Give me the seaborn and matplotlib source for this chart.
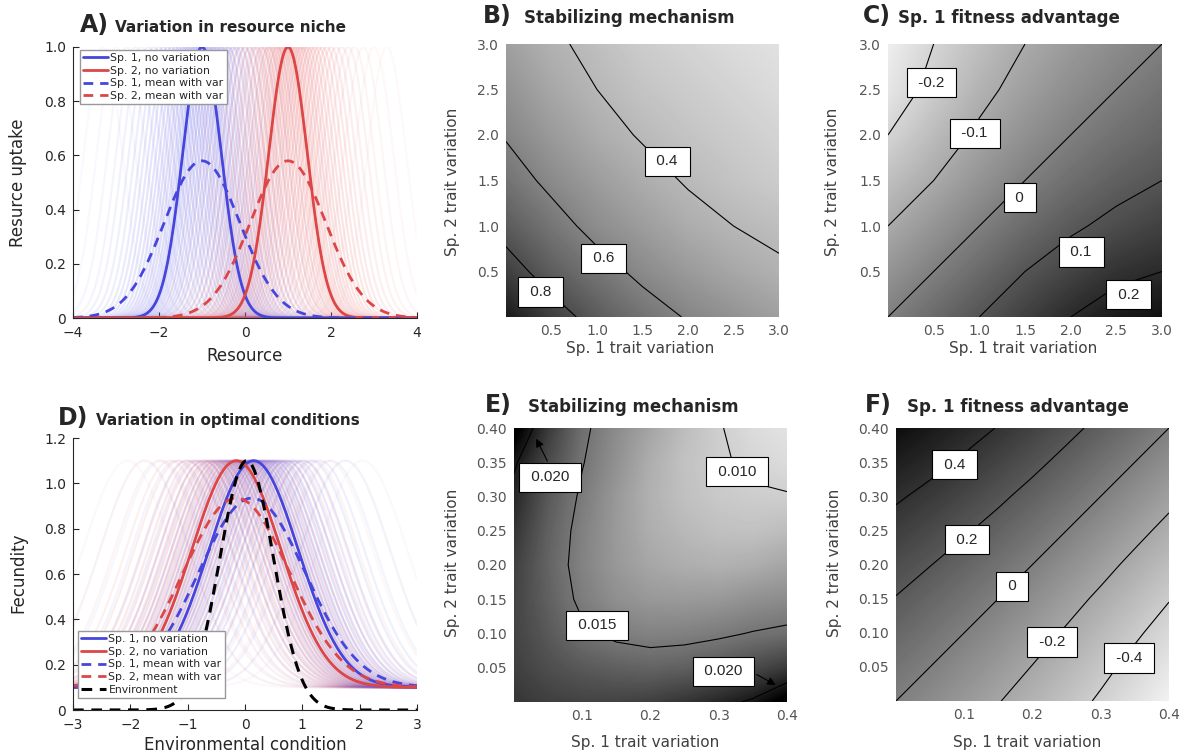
import numpy as np
import matplotlib
matplotlib.use("Agg")
import matplotlib.pyplot as plt
import seaborn as sns

# ─── Data ──────────────────────────────────────────────────
# A) resource niche curves: Sp. 1, Sp. 2
niche_optimum = [-1.0, 1.0]
niche_width = 0.45
niche_peak = 1.0
niche_var_peak = 0.58
niche_var_width = 0.88
niche_trait_offsets = [-2.3, -2.0, -1.75, -1.55, -1.4, -1.25, -1.12, -1.0, -0.9, -0.8,
                       -0.71, -0.62, -0.54, -0.46, -0.39, -0.32, -0.25, -0.18, -0.12, -0.06,
                       0.0, 0.06, 0.12, 0.18, 0.25, 0.32, 0.39, 0.46, 0.54, 0.62,
                       0.71, 0.8, 0.9, 1.0, 1.12, 1.25, 1.4, 1.55, 1.75, 2.0, 2.3]

# D) optimal conditions curves: Sp. 1, Sp. 2
cond_optimum = [0.15, -0.15]
cond_base = 0.1
cond_height = 1.0
cond_width = 0.78
cond_var_optimum = [0.12, -0.15]
cond_var_height = 0.835
cond_var_width = 0.93
cond_trait_offsets = [-1.9, -1.6, -1.35, -1.15, -1.0, -0.87, -0.76, -0.66, -0.57, -0.49,
                      -0.42, -0.35, -0.29, -0.23, -0.17, -0.11, -0.06, 0.0, 0.06, 0.11,
                      0.17, 0.23, 0.29, 0.35, 0.42, 0.49, 0.57, 0.66, 0.76, 0.87,
                      1.0, 1.15, 1.35, 1.6, 1.9]
env_center = 0.03
env_width = 0.47
env_height = 1.1

legend_labels = ["Sp. 1, no variation", "Sp. 2, no variation",
                 "Sp. 1, mean with var", "Sp. 2, mean with var"]

# B) stabilizing mechanism, trait variation 0..3 (rows = Sp. 2, cols = Sp. 1)
var_big = [0.0, 0.5, 1.0, 1.5, 2.0, 2.5, 3.0]
stab_big = np.array([
    [1.00, 0.86, 0.75, 0.66, 0.59, 0.54, 0.49],
    [0.86, 0.74, 0.65, 0.57, 0.51, 0.46, 0.42],
    [0.75, 0.65, 0.56, 0.50, 0.44, 0.40, 0.37],
    [0.66, 0.57, 0.50, 0.44, 0.39, 0.35, 0.32],
    [0.59, 0.51, 0.44, 0.39, 0.35, 0.32, 0.29],
    [0.54, 0.46, 0.40, 0.35, 0.32, 0.29, 0.26],
    [0.49, 0.42, 0.37, 0.32, 0.29, 0.26, 0.24],
])
stab_big_levels = [0.4, 0.6, 0.8]

# C) Sp. 1 fitness advantage, trait variation 0..3
fit_big = np.array([
    [0.00, 0.05, 0.10, 0.15, 0.20, 0.24, 0.26],
    [-0.05, 0.00, 0.05, 0.10, 0.14, 0.18, 0.20],
    [-0.10, -0.05, 0.00, 0.047, 0.088, 0.12, 0.148],
    [-0.15, -0.10, -0.047, 0.00, 0.04, 0.074, 0.10],
    [-0.20, -0.14, -0.088, -0.04, 0.00, 0.034, 0.062],
    [-0.24, -0.18, -0.12, -0.074, -0.034, 0.00, 0.029],
    [-0.26, -0.20, -0.148, -0.10, -0.062, -0.029, 0.00],
])
fit_big_levels = [-0.2, -0.1, 0.0, 0.1, 0.2]

# E) stabilizing mechanism, trait variation 0..0.4
var_small = [0.0, 0.05, 0.10, 0.15, 0.20, 0.25, 0.30, 0.35, 0.40]
stab_small = np.array([
    [0.0185, 0.0180, 0.0178, 0.0178, 0.0180, 0.0186, 0.0194, 0.0203, 0.0222],
    [0.0180, 0.0172, 0.0166, 0.0162, 0.0160, 0.0162, 0.0166, 0.0174, 0.0183],
    [0.0178, 0.0166, 0.0153, 0.0146, 0.0143, 0.0144, 0.0147, 0.0151, 0.0154],
    [0.0178, 0.0162, 0.0146, 0.0136, 0.0131, 0.0130, 0.0131, 0.0135, 0.0138],
    [0.0180, 0.0160, 0.0143, 0.0131, 0.0123, 0.0119, 0.0117, 0.0119, 0.0124],
    [0.0186, 0.0162, 0.0144, 0.0130, 0.0119, 0.0113, 0.0109, 0.0108, 0.0111],
    [0.0194, 0.0166, 0.0147, 0.0131, 0.0117, 0.0109, 0.0104, 0.0102, 0.0101],
    [0.0203, 0.0174, 0.0151, 0.0135, 0.0119, 0.0108, 0.0102, 0.0097, 0.0094],
    [0.0222, 0.0183, 0.0154, 0.0138, 0.0124, 0.0111, 0.0101, 0.0094, 0.0090],
])
stab_small_levels = [0.010, 0.015, 0.020]

# F) Sp. 1 fitness advantage, trait variation 0..0.4
fit_small = np.array([
    [0.000, -0.062, -0.127, -0.194, -0.264, -0.340, -0.420, -0.504, -0.592],
    [0.062, 0.000, -0.065, -0.132, -0.204, -0.280, -0.360, -0.444, -0.529],
    [0.127, 0.065, 0.000, -0.068, -0.140, -0.216, -0.296, -0.378, -0.462],
    [0.194, 0.132, 0.068, 0.000, -0.072, -0.148, -0.227, -0.308, -0.393],
    [0.264, 0.204, 0.140, 0.072, 0.000, -0.076, -0.154, -0.236, -0.318],
    [0.340, 0.280, 0.216, 0.148, 0.076, 0.000, -0.079, -0.159, -0.240],
    [0.420, 0.360, 0.296, 0.227, 0.154, 0.079, 0.000, -0.080, -0.162],
    [0.504, 0.444, 0.378, 0.308, 0.236, 0.159, 0.080, 0.000, -0.082],
    [0.592, 0.529, 0.462, 0.393, 0.318, 0.240, 0.162, 0.082, 0.000],
])
fit_small_levels = [-0.4, -0.2, 0.0, 0.2, 0.4]

# ─── Layout (figure pixels) ────────────────────────────────
W, H = 1184, 756
BLUE, RED = "#4646dc", "#dc4646"
FAINT_BLUE, FAINT_RED = "#5a5aea", "#ea5a5a"
LABEL_GREY = "#404040"


def px_box(l, t, r, b):
    return [l / W, 1 - b / H, (r - l) / W, (b - t) / H]


def gauss(x, mu, sd, height, base=0.0):
    return base + height * np.exp(-0.5 * ((x - mu) / sd) ** 2)


def faint_curves(ax, x, mean, offsets, sd, height, base, color, spread):
    # fade the curves that sit far from the species mean
    for o in offsets:
        a = 0.025 + 0.17 * np.exp(-0.5 * (o / spread) ** 2)
        sns.lineplot(x=x, y=gauss(x, mean + o, sd, height, base), color=color,
                     alpha=a, lw=1.6, ax=ax, legend=False)


sns.set_style("ticks")
plt.rcParams["font.family"] = ["DejaVu Sans"]

fig = plt.figure(figsize=(W / 100, H / 100), dpi=100)


def style_line_axes(ax, xticks, xlabels, yticks, ylabels):
    ax.set_xticks(xticks, xlabels)
    ax.set_yticks(yticks, ylabels)
    ax.set_xlabel("")
    ax.set_ylabel("")
    ax.tick_params(direction="in", length=4, width=0.8, labelsize=10,
                   colors="#262626")
    ax.tick_params(axis="x", pad=6)
    ax.tick_params(axis="y", pad=5)
    sns.despine(ax=ax)
    for s in ["left", "bottom"]:
        ax.spines[s].set_color("#262626")
        ax.spines[s].set_linewidth(0.8)


def draw_legend(ax, loc, anchor):
    ax.legend(loc=loc, bbox_to_anchor=anchor, borderaxespad=0, fontsize=7.8,
              frameon=True, fancybox=False, edgecolor="#999999", framealpha=1,
              handlelength=2.3, handletextpad=0.2, labelspacing=0.25,
              borderpad=0.3)


# ─── A) Variation in resource niche ───────────────────────
x_res = np.linspace(-4, 4, 401)
axA = fig.add_axes(px_box(73, 47, 417, 318))
for color, mu in zip([FAINT_BLUE, FAINT_RED], niche_optimum):
    faint_curves(axA, x_res, mu, niche_trait_offsets, niche_width, niche_peak, 0.0,
                 color, 0.9)
for lab, color, mu in zip(legend_labels[:2], [BLUE, RED], niche_optimum):
    sns.lineplot(x=x_res, y=gauss(x_res, mu, niche_width, niche_peak), color=color,
                 lw=2, ax=axA, label=lab)
for lab, color, mu in zip(legend_labels[2:], [BLUE, RED], niche_optimum):
    sns.lineplot(x=x_res, y=gauss(x_res, mu, niche_var_width, niche_var_peak),
                 color=color, lw=2, ls=(0, (3.5, 2.5)), ax=axA, label=lab)
axA.set_xlim(-4, 4)
axA.set_ylim(0, 1.0)
style_line_axes(axA, [-4, -2, 0, 2, 4], ["\u22124", "\u22122", "0", "2", "4"],
                [0, 0.2, 0.4, 0.6, 0.8, 1.0], ["0", "0.2", "0.4", "0.6", "0.8", "1.0"])
draw_legend(axA, "upper left", (0.02, 0.99))

# ─── D) Variation in optimal conditions ───────────────────
x_env = np.linspace(-3, 3, 401)
axD = fig.add_axes(px_box(73, 438, 417, 710))
for color, mu in zip([FAINT_RED, FAINT_BLUE], cond_optimum[::-1]):
    faint_curves(axD, x_env, mu, cond_trait_offsets, cond_width, cond_height,
                 cond_base, color, 0.8)
for lab, color, mu in zip(legend_labels[:2], [BLUE, RED], cond_optimum):
    sns.lineplot(x=x_env, y=gauss(x_env, mu, cond_width, cond_height, cond_base),
                 color=color, lw=2, ax=axD, label=lab)
for lab, color, mu in zip(legend_labels[2:], [BLUE, RED], cond_var_optimum):
    sns.lineplot(x=x_env, y=gauss(x_env, mu, cond_var_width, cond_var_height, cond_base),
                 color=color, lw=2, ls=(0, (3.5, 2.5)), ax=axD, label=lab)
sns.lineplot(x=x_env, y=gauss(x_env, env_center, env_width, env_height), color="black",
             lw=2.2, ls=(0, (3.5, 2.5)), ax=axD, label="Environment")
axD.set_xlim(-3, 3)
axD.set_ylim(0, 1.2)
style_line_axes(axD, [-3, -2, -1, 0, 1, 2, 3],
                ["\u22123", "\u22122", "\u22121", "0", "1", "2", "3"],
                [0, 0.2, 0.4, 0.6, 0.8, 1.0, 1.2],
                ["0", "0.2", "0.4", "0.6", "0.8", "1.0", "1.2"])
draw_legend(axD, "lower left", (0.015, 0.044))


# ─── Heatmap panels ───────────────────────────────────────
def heat_panel(rect, grid, Z, vmin, vmax, levels, xticks, yticks, yfmt):
    ax = fig.add_axes(rect)
    step = grid[1] - grid[0]
    ext = (grid[0] - step / 2, grid[-1] + step / 2, grid[0] - step / 2, grid[-1] + step / 2)
    ax.imshow(Z, origin="lower", extent=ext, cmap="gray_r", vmin=vmin, vmax=vmax,
              interpolation="bilinear", aspect="auto")
    ax.contour(grid, grid, Z, levels=levels, colors="black", linewidths=0.8,
               linestyles="solid")
    ax.set_xlim(grid[0], grid[-1])
    ax.set_ylim(grid[0], grid[-1])
    ax.set_xticks(xticks, [f"{t:.1f}" for t in xticks])
    ax.set_yticks(yticks, [yfmt.format(t) for t in yticks])
    ax.tick_params(length=0, labelsize=10, colors="#555555", pad=5)
    for s in ax.spines.values():
        s.set_visible(False)
    return ax


def box_label(ax, x, y, text):
    ax.text(x, y, f" {text} ", ha="center", va="center", fontsize=11,
            family="Liberation Sans", zorder=5,
            bbox=dict(boxstyle="square,pad=0.5", fc="white", ec="black", lw=0.8))


axB = heat_panel(px_box(506, 44, 779, 317), var_big, stab_big, 0.123, 1.097,
                 stab_big_levels, [0.5, 1.0, 1.5, 2.0, 2.5, 3.0],
                 [0.5, 1.0, 1.5, 2.0, 2.5, 3.0], "{:.1f}")
for lev, (x, y) in zip(stab_big_levels, [(1.77, 1.71), (1.07, 0.645), (0.38, 0.275)]):
    box_label(axB, x, y, f"{lev:g}")

axC = heat_panel(px_box(888, 44, 1162, 317), var_big, fit_big, -0.3, 0.3,
                 fit_big_levels, [0.5, 1.0, 1.5, 2.0, 2.5, 3.0],
                 [0.5, 1.0, 1.5, 2.0, 2.5, 3.0], "{:.1f}")
for lev, (x, y) in zip(fit_big_levels, [(0.476, 2.576), (0.95, 2.02), (1.445, 1.313),
                                        (2.115, 0.713), (2.634, 0.245)]):
    box_label(axC, x, y, f"{lev:g}")

axE = heat_panel(px_box(514, 428, 787, 702), var_small, stab_small, 0.0074, 0.0215,
                 stab_small_levels, [0.1, 0.2, 0.3, 0.4],
                 [0.05, 0.10, 0.15, 0.20, 0.25, 0.30, 0.35, 0.40], "{:.2f}")
e_labels = [(0.020, 0.0527, 0.328, (0.0307, 0.388)), (0.010, 0.327, 0.336, None),
            (0.015, 0.122, 0.112, None), (0.020, 0.307, 0.045, (0.387, 0.023))]
for lev, x, y, tip in e_labels:
    if tip is not None:
        start = (x - 0.002, y + 0.02) if tip[1] > y else (x + 0.045, y - 0.003)
        axE.annotate("", xy=tip, xytext=start,
                     arrowprops=dict(arrowstyle="-|>", color="black", lw=0.8,
                                     mutation_scale=12), zorder=4)
    box_label(axE, x, y, f"{lev:.3f}")

axF = heat_panel(px_box(896, 428, 1169, 701), var_small, fit_small, -0.66, 0.66,
                 fit_small_levels, [0.1, 0.2, 0.3, 0.4],
                 [0.05, 0.10, 0.15, 0.20, 0.25, 0.30, 0.35, 0.40], "{:.2f}")
for lev, (x, y) in zip(fit_small_levels, [(0.342, 0.063), (0.229, 0.0863), (0.170, 0.168),
                                          (0.104, 0.2366), (0.0859, 0.346)]):
    box_label(axF, x, y, f"{lev:g}")

# ─── Titles and axis labels ───────────────────────────────
titles = [("A)", 80, "Variation in resource niche", 115, 32, 11),
          ("D)", 58, "Variation in optimal conditions", 96, 425, 11),
          ("B)", 483, "Stabilizing mechanism", 524, 23, 12),
          ("C)", 863, "Sp. 1 fitness advantage", 898, 23, 12),
          ("E)", 485, "Stabilizing mechanism", 528, 412, 12),
          ("F)", 865, "Sp. 1 fitness advantage", 907, 412, 12)]
for letter, lx, title, tx, by, fs in titles:
    fig.text(lx / W, 1 - by / H, letter, fontsize=17, fontweight="bold", va="baseline")
    fig.text(tx / W, 1 - by / H, title, fontsize=fs, fontweight="bold", va="baseline")

xlabels = [("Resource", 245, 356, 12, "#262626"),
           ("Environmental condition", 245, 745, 12, "#262626"),
           ("Sp. 1 trait variation", 640, 349, 11, LABEL_GREY),
           ("Sp. 1 trait variation", 1023, 349, 11, LABEL_GREY),
           ("Sp. 1 trait variation", 645, 742, 11, LABEL_GREY),
           ("Sp. 1 trait variation", 1027, 742, 11, LABEL_GREY)]
for text, x, y, fs, c in xlabels:
    fig.text(x / W, 1 - y / H, text, fontsize=fs, color=c, ha="center", va="center")

ylabels = [("Resurce uptake", 18, 183, 12, "#262626"),
           ("Fecundity", 18, 573, 12, "#262626"),
           ("Sp. 2 trait variation", 453, 182, 11, LABEL_GREY),
           ("Sp. 2 trait variation", 833, 182, 11, LABEL_GREY),
           ("Sp. 2 trait variation", 453, 563, 11, LABEL_GREY),
           ("Sp. 2 trait variation", 835, 563, 11, LABEL_GREY)]
for text, x, y, fs, c in ylabels:
    fig.text(x / W, 1 - y / H, text, fontsize=fs, color=c, ha="center", va="center",
             rotation=90)

fig.savefig("out.png", dpi=100)
